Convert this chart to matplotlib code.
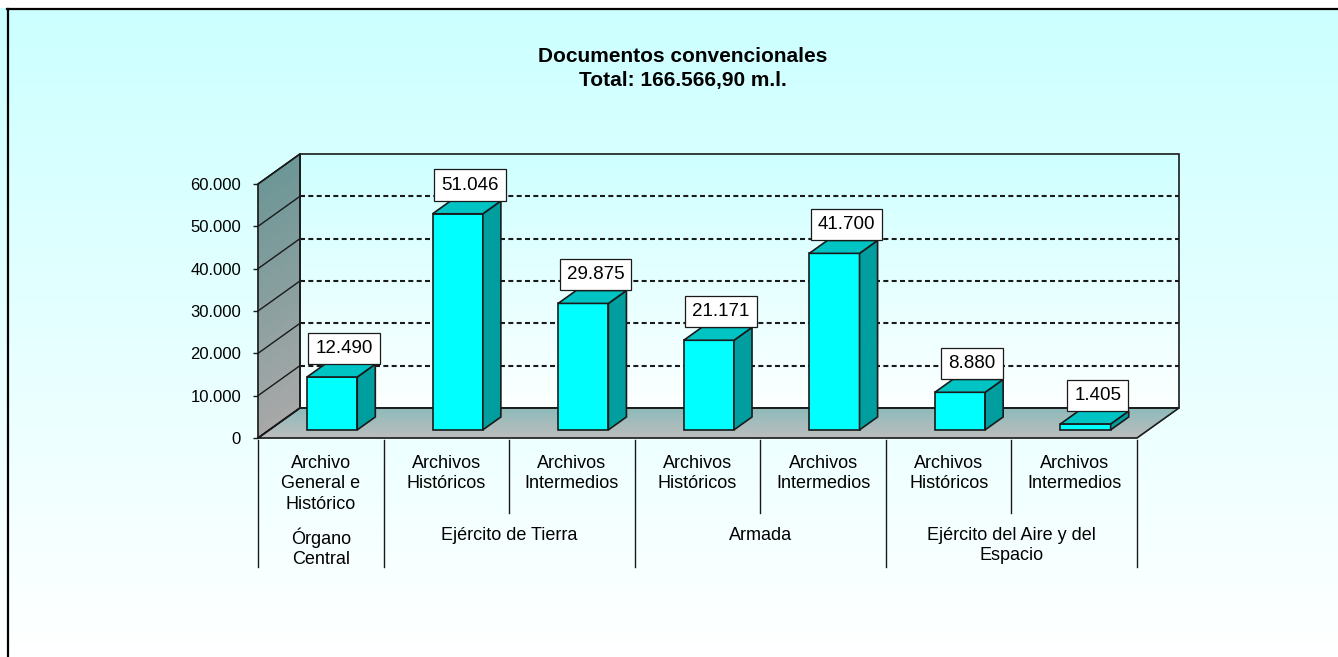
# ====== imports ======
import numpy as np
import matplotlib
matplotlib.use("Agg")
import matplotlib.pyplot as plt
from matplotlib.collections import PolyCollection
from matplotlib.lines import Line2D
from matplotlib.ticker import FuncFormatter

# ====== data ======
CATEGORIES = ["Archivo\nGeneral e\nHistórico",
              "Archivos\nHistóricos", "Archivos\nIntermedios",
              "Archivos\nHistóricos", "Archivos\nIntermedios",
              "Archivos\nHistóricos", "Archivos\nIntermedios"]
GROUPS      = ["Órgano\nCentral", "Ejército de Tierra", "Armada",
               "Ejército del Aire y del\nEspacio"]
GROUP_SIZES = [1, 2, 2, 2]
VALUES      = [12490, 51046, 29875, 21171, 41700, 8880, 1405]
TITLE       = "Documentos convencionales\nTotal: 166.566,90 m.l."
Y_MAX       = 60000
Y_STEP      = 10000

# ====== style knobs ======
W_PX, H_PX = 1338, 657
DPI = 100
FS_TICK = 12
FS_CAT = 13
FS_LAB = 13.5
FS_TITLE = 15
DX, DY = 0.3345, 7100          # full-depth oblique offset (category units, value units)
BAR_HALF = 0.2
BAR_D0, BAR_D1 = 0.27, 0.70    # bar depth span as fraction of floor depth
EDGE = "#1a1a1a"

plt.rcParams["font.family"] = ["Liberation Sans", "DejaVu Sans"]


def P(x, v, d):
    """Oblique projection: category x, value v, depth fraction d -> front-plane coords."""
    return (x + d * DX, v + d * DY)


def fill_gradient(ax, edge0, edge1, c0, c1, n=80, z=1):
    """Fill the quad between edge0 and edge1 with a linear colour ramp c0 -> c1."""
    a0, b0 = np.array(edge0[0]), np.array(edge0[1])
    a1, b1 = np.array(edge1[0]), np.array(edge1[1])
    c0, c1 = np.array(c0) / 255.0, np.array(c1) / 255.0
    polys, cols = [], []
    for k in range(n):
        t0, t1 = k / n, (k + 1) / n
        polys.append([a0 + (a1 - a0) * t0, b0 + (b1 - b0) * t0,
                      b0 + (b1 - b0) * t1, a0 + (a1 - a0) * t1])
        cols.append(c0 + (c1 - c0) * (t0 + t1) / 2)
    pc = PolyCollection(polys, facecolors=cols, edgecolors=cols,
                        linewidths=0.6, zorder=z, clip_on=False)
    ax.add_collection(pc)


# ====== figure + background ======
fig = plt.figure(figsize=(W_PX / DPI, H_PX / DPI), dpi=DPI)
bg = fig.add_axes([0, 0, 1, 1], zorder=-5)
grad = np.linspace(0, 1, 256)[:, None]
top_c, bot_c = np.array([204, 255, 255]) / 255, np.array([255, 255, 255]) / 255
img = top_c[None, None, :] * (1 - grad[:, :, None]) + bot_c[None, None, :] * grad[:, :, None]
bg.imshow(img, extent=[0, 1, 0, 1 - 8 / H_PX], aspect="auto")
bg.set_xlim(0, 1)
bg.set_ylim(0, 1)
bg.axis("off")

# chart border (only left and top show inside the crop)
fig.add_artist(Line2D([8 / W_PX, 8 / W_PX], [0, 1 - 9 / H_PX], color="black",
                      lw=1.6, transform=fig.transFigure))
fig.add_artist(Line2D([7 / W_PX, 1], [1 - 9 / H_PX, 1 - 9 / H_PX], color="black",
                      lw=1.6, transform=fig.transFigure))

# ====== plot axes: front plane ======
x0, x1, y0, y1 = 258, 1137, 438, 184
ax = fig.add_axes([x0 / W_PX, 1 - y0 / H_PX, (x1 - x0) / W_PX, (y0 - y1) / H_PX])
ax.patch.set_visible(False)
n = len(VALUES)
ax.set_xlim(0, n)
ax.set_ylim(0, Y_MAX)

# walls and floor
fill_gradient(ax, (P(0, Y_MAX, 1), P(n, Y_MAX, 1)), (P(0, 0, 1), P(n, 0, 1)),
              (206, 255, 255), (252, 255, 255))
fill_gradient(ax, (P(0, Y_MAX, 0), P(0, Y_MAX, 1)), (P(0, 0, 0), P(0, 0, 1)),
              (108, 150, 150), (168, 168, 168))
fill_gradient(ax, (P(0, 0, 1), P(n, 0, 1)), (P(0, 0, 0), P(n, 0, 0)),
              (140, 186, 186), (188, 188, 188))

# gridlines on back wall + left wall
for v in range(Y_STEP, Y_MAX, Y_STEP):
    (xa, ya), (xb, yb) = P(0, v, 1), P(n, v, 1)
    ax.plot([xa, xb], [ya, yb], color=EDGE, lw=1.5, ls=(0, (2.4, 1.6)),
            zorder=2, clip_on=False)
for v in range(0, Y_MAX + 1, Y_STEP):
    (xa, ya), (xb, yb) = P(0, v, 0), P(0, v, 1)
    ax.plot([xa, xb], [ya, yb], color=EDGE, lw=1.0, zorder=2, clip_on=False)

# outlines
def outline(pts, lw=1.2):
    xs, ys = zip(*(pts + [pts[0]]))
    ax.plot(xs, ys, color=EDGE, lw=lw, zorder=3, clip_on=False,
            solid_joinstyle="miter")

outline([P(0, 0, 1), P(n, 0, 1), P(n, Y_MAX, 1), P(0, Y_MAX, 1)])
outline([P(0, 0, 0), P(0, 0, 1), P(0, Y_MAX, 1), P(0, Y_MAX, 0)])
outline([P(0, 0, 0), P(n, 0, 0), P(n, 0, 1), P(0, 0, 1)])

# ====== bars ======
for i, v in enumerate(VALUES):
    c = i + 0.5
    l, r = c - BAR_HALF, c + BAR_HALF
    front = [P(l, 0, BAR_D0), P(r, 0, BAR_D0), P(r, v, BAR_D0), P(l, v, BAR_D0)]
    side  = [P(r, 0, BAR_D0), P(r, 0, BAR_D1), P(r, v, BAR_D1), P(r, v, BAR_D0)]
    top   = [P(l, v, BAR_D0), P(r, v, BAR_D0), P(r, v, BAR_D1), P(l, v, BAR_D1)]
    for face, col in ((front, "#00FFFF"), (side, "#009E9E"), (top, "#00C4C4")):
        ax.add_patch(plt.Polygon(face, closed=True, fc=col, ec=EDGE, lw=1.2,
                                 zorder=5 + i, clip_on=False, joinstyle="miter"))
    lx, _ = P(c, v, 0.56)
    ax.annotate(f"{v:,}".replace(",", "."), xy=(lx, v), xytext=(0, 26.5),
                textcoords="offset points", ha="center", va="center",
                fontsize=FS_LAB, zorder=30, annotation_clip=False,
                bbox=dict(boxstyle="square,pad=0.38", fc="white", ec=EDGE, lw=0.9))

# ====== axes styling ======
for s in ax.spines.values():
    s.set_visible(False)
ax.set_yticks(range(0, Y_MAX + 1, Y_STEP))
ax.yaxis.set_major_formatter(FuncFormatter(lambda y, _: f"{int(y):,}".replace(",", ".")))
ax.tick_params(axis="y", direction="out", length=3.6, width=1.0, pad=8.6,
               labelsize=FS_TICK, color=EDGE)
ax.set_xticks([])

# ====== category table below the floor ======
tr = ax.get_xaxis_transform()
def ax_frac(ypx):
    return (y0 - ypx) / (y0 - y1)

bounds = np.cumsum([0] + GROUP_SIZES)
for b in range(n + 1):
    ylow = 567 if b in bounds else 513
    ax.plot([b, b], [ax_frac(440), ax_frac(ylow)], color=EDGE, lw=1.0,
            transform=tr, clip_on=False, zorder=3)

for i, lab in enumerate(CATEGORIES):
    ax.text(i + 0.5, ax_frac(455), lab, transform=tr, ha="center", va="top",
            fontsize=FS_CAT, linespacing=1.26)
for g, lab in enumerate(GROUPS):
    ax.text((bounds[g] + bounds[g + 1]) / 2, ax_frac(527), lab, transform=tr,
            ha="center", va="top", fontsize=FS_CAT, linespacing=1.26)

# ====== title ======
fig.text(683 / W_PX, 1 - 68.5 / H_PX, TITLE, ha="center", va="center",
         fontsize=FS_TITLE, fontweight="bold", linespacing=1.3)

fig.savefig("out.png", dpi=DPI)
